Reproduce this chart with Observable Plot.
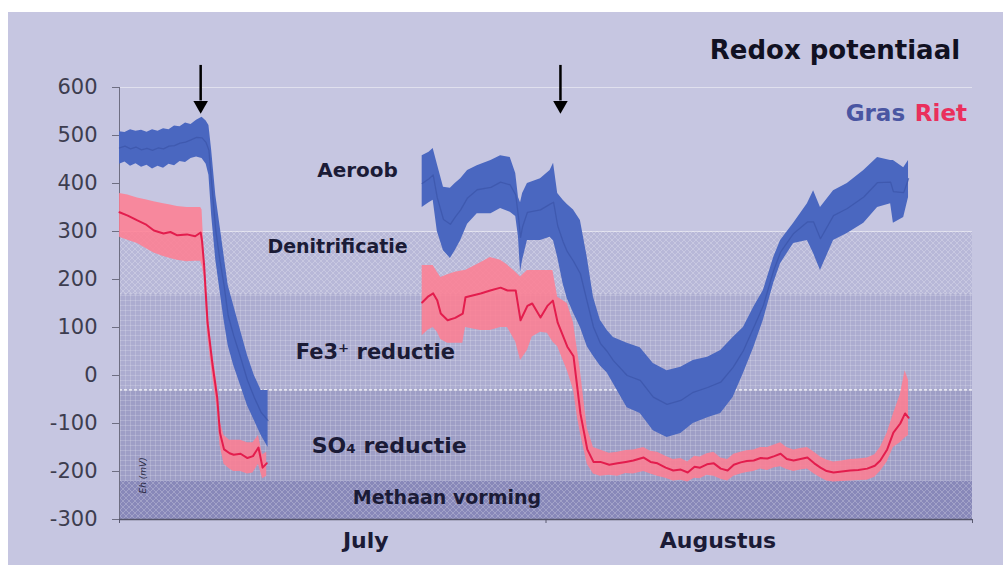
<!DOCTYPE html>
<html>
<head>
<meta charset="utf-8">
<script src="https://cdn.jsdelivr.net/npm/d3@7"></script>
<script src="https://cdn.jsdelivr.net/npm/@observablehq/plot@0.6"></script>
<style>
  html, body { margin: 0; padding: 0; background: #ffffff; }
  #bg { position: absolute; left: 8px; top: 12px; right: 0; bottom: 0; background: #c6c6e1; }
  #chart { position: absolute; left: 0; top: 0; }
  #defs { position: absolute; width: 0; height: 0; }
</style>
</head>
<body>
<svg id="defs" width="0" height="0">
  <defs>
    <pattern id="hatch" width="6" height="6" patternUnits="userSpaceOnUse">
      <path d="M0,0 L6,6 M6,0 L0,6" stroke="#ffffff" stroke-opacity="0.28" stroke-width="0.8"/>
    </pattern>
    <pattern id="grid" width="5" height="5" patternUnits="userSpaceOnUse">
      <path d="M0,0.5 H5 M0.5,0 V5" stroke="#ffffff" stroke-opacity="0.22" stroke-width="0.8"/>
    </pattern>
  </defs>
</svg>
<div id="bg"></div>
<div id="chart"></div>
<script>
// ---- Data (x = day since 1 July, y = Eh in mV) ----
const yTicks = [-300, -200, -100, 0, 100, 200, 300, 400, 500, 600];
const monthLabels = ["July", "Augustus"];
const monthPos = [17.9, 43.5];
const monthBoundaries = [0, 31, 62];
const arrowDays = [5.9, 32.05];

const bandLabels = ["Denitrificatie", "Fe3\u207A reductie", "SO\u2084 reductie", "Methaan vorming"];
const bandTop = [300, 170, -30, -220];
const bandBottom = [170, -30, -220, -300];

// [day, low, mean, high]
const grasJuly = [
  [0.0, 440, 474, 508], [0.4, 445, 478, 506], [0.8, 436, 472, 512], [1.2, 441, 476, 509],
  [1.6, 434, 470, 511], [2.0, 438, 473, 507], [2.4, 430, 469, 512], [2.8, 436, 474, 509],
  [3.2, 432, 472, 514], [3.6, 440, 478, 512], [4.0, 437, 479, 520], [4.4, 446, 484, 518],
  [4.8, 444, 486, 526], [5.2, 452, 491, 523], [5.6, 455, 496, 532], [6.0, 452, 495, 538],
  [6.3, 440, 485, 530], [6.5, 417, 469, 521], [6.7, 333, 400, 469], [7.0, 240, 302, 375],
  [7.3, 177, 240, 313], [7.6, 115, 188, 250], [7.9, 62, 125, 188], [8.3, 21, 83, 146],
  [8.8, -21, 38, 94], [9.3, -63, -10, 42], [9.8, -94, -46, 0], [10.3, -125, -77, -31],
  [10.8, -150, -94, -31]
];
const grasAug = [
  [22.0, 350, 400, 458], [22.5, 360, 410, 465], [22.8, 365, 418, 473], [23.1, 300, 370, 440],
  [23.55, 260, 325, 392], [24.05, 244, 315, 390], [24.4, 260, 330, 400], [24.8, 281, 345, 410],
  [25.3, 315, 370, 427], [26.0, 337, 387, 437], [27.0, 337, 392, 448], [27.7, 348, 403, 458],
  [28.4, 340, 397, 454], [28.8, 331, 376, 421], [29.0, 288, 330, 371], [29.15, 215, 288, 360],
  [29.3, 240, 310, 379], [29.65, 281, 340, 400], [30.6, 281, 345, 410], [31.3, 288, 357, 427],
  [31.55, 280, 361, 442], [31.85, 246, 312, 379], [32.25, 190, 278, 365], [32.55, 160, 258, 356],
  [33.0, 130, 238, 345], [33.5, 100, 212, 323], [34.0, 60, 153, 246], [34.45, 40, 101, 163],
  [34.95, 20, 67, 115], [35.45, 5, 50, 94], [35.9, -17, 31, 79], [36.9, -67, 0, 67],
  [37.85, -79, -10, 58], [38.8, -115, -45, 25], [39.8, -129, -60, 10], [40.8, -121, -52, 17],
  [41.7, -100, -35, 31], [42.75, -88, -25, 38], [43.7, -79, -14, 52], [44.6, -46, 17, 79],
  [45.35, 4, 52, 100], [46.1, 58, 100, 142], [46.8, 115, 146, 177], [47.55, 192, 219, 246],
  [48.05, 233, 257, 281], [49.0, 275, 296, 317], [50.0, 281, 320, 358], [50.45, 254, 320, 385],
  [50.95, 219, 285, 350], [51.9, 281, 333, 385], [52.9, 296, 348, 400], [54.1, 317, 372, 427],
  [55.1, 350, 402, 454], [56.05, 358, 403, 448], [56.25, 317, 383, 448], [57.0, 329, 381, 433],
  [57.35, 371, 410, 448]
];
const rietJuly = [
  [0.0, 288, 340, 379], [0.6, 282, 333, 376], [1.3, 275, 323, 370], [1.9, 265, 315, 366],
  [2.5, 255, 302, 362], [3.2, 248, 296, 358], [3.7, 244, 299, 355], [4.2, 240, 292, 352],
  [4.9, 237, 294, 350], [5.5, 238, 290, 350], [5.9, 238, 298, 350], [6.0, 230, 280, 345],
  [6.15, 205, 230, 255], [6.4, 85, 110, 135], [6.75, 0, 25, 50], [7.1, -70, -46, -20],
  [7.3, -145, -119, -95], [7.6, -185, -154, -125], [8.0, -195, -162, -135], [8.3, -200, -165, -135],
  [8.8, -200, -163, -135], [9.3, -205, -172, -140], [9.7, -203, -168, -140], [10.1, -185, -150, -125],
  [10.4, -215, -192, -165], [10.7, -210, -183, -160]
];
const rietAug = [
  [22.0, 83, 152, 229], [22.45, 95, 165, 229], [22.8, 100, 171, 229], [23.1, 90, 156, 215],
  [23.35, 75, 129, 204], [23.85, 67, 115, 210], [24.4, 67, 120, 215], [24.95, 67, 129, 218],
  [25.15, 100, 163, 219], [26.25, 94, 171, 235], [26.95, 94, 177, 246], [27.7, 100, 183, 240],
  [28.2, 100, 177, 230], [28.8, 70, 177, 215], [29.15, 31, 115, 205], [29.65, 52, 145, 219],
  [30.0, 80, 150, 219], [30.6, 90, 121, 219], [31.1, 88, 145, 219], [31.5, 70, 156, 219],
  [31.85, 60, 110, 163], [32.55, 10, 60, 150], [33.0, -30, 40, 110], [33.3, -90, -31, 50],
  [33.5, -120, -79, 10], [34.0, -185, -154, -110], [34.45, -205, -180, -150], [34.95, -210, -180, -155],
  [35.6, -208, -186, -162], [36.2, -210, -183, -160], [36.8, -204, -180, -156], [37.35, -205, -177, -155],
  [38.1, -200, -171, -150], [38.6, -205, -180, -158], [39.1, -210, -183, -160], [39.7, -214, -192, -168],
  [40.25, -220, -198, -175], [40.8, -218, -196, -173], [41.3, -222, -202, -180], [41.8, -214, -190, -168],
  [42.2, -215, -192, -170], [42.7, -208, -185, -163], [43.2, -210, -183, -160], [43.7, -216, -194, -172],
  [44.2, -220, -198, -175], [44.65, -210, -186, -164], [45.15, -205, -181, -160], [45.6, -202, -178, -157],
  [46.1, -200, -177, -155], [46.6, -195, -172, -150], [47.1, -198, -173, -150], [47.6, -192, -168, -145],
  [48.05, -190, -163, -140], [48.5, -196, -174, -150], [49.0, -200, -177, -155], [49.5, -197, -174, -152],
  [50.0, -195, -171, -150], [50.5, -205, -183, -160], [50.95, -213, -192, -170], [51.4, -220, -199, -176],
  [51.9, -222, -202, -180], [52.5, -221, -200, -178], [53.1, -220, -198, -175], [53.7, -219, -197, -174],
  [54.35, -218, -194, -172], [54.9, -212, -188, -165], [55.3, -200, -177, -150], [55.8, -180, -154, -120],
  [56.25, -150, -119, -80], [56.75, -140, -100, -40], [57.1, -130, -79, 10], [57.35, -125, -88, -10]
];

// ---- Build tables ----
const toRows = (arr, seg) => arr.map(([day, lo, mean, hi]) => ({seg, day, lo, mean, hi}));
const gras = [...toRows(grasJuly, "jul"), ...toRows(grasAug, "aug")];
const riet = [...toRows(rietJuly, "jul"), ...toRows(rietAug, "aug")];
const bands = bandLabels.map((label, i) => ({label, top: bandTop[i], bottom: bandBottom[i]}));

// ---- Styles ----
const bandFills = ["#b8b8d8", "#acacd0", "#9e9ec6", "#8888b9"];
const bandPatterns = ["url(#hatch)", "url(#grid)", "url(#grid)", "url(#hatch)"];
const labelColor = "#1b1b36";
const fontFamily = "DejaVu Sans";

const chart = Plot.plot({
  width: 1003,
  height: 565,
  marginLeft: 119,
  marginRight: 31,
  marginTop: 87,
  marginBottom: 46,
  x: {domain: [0, 62], axis: null},
  y: {domain: [-300, 600], axis: null},
  style: {fontFamily, background: "transparent", overflow: "visible"},
  marks: [
    // zone bands
    ...bands.map((b, i) => Plot.rect([b], {x1: 0, x2: 62, y1: "bottom", y2: "top", fill: bandFills[i]})),
    ...bands.map((b, i) => Plot.rect([b], {x1: 0, x2: 62, y1: "bottom", y2: "top", fill: bandPatterns[i]})),
    Plot.ruleY([600], {stroke: "#ffffff", strokeOpacity: 0.45}),
    Plot.ruleY([300], {stroke: "#ffffff", strokeOpacity: 0.55}),
    Plot.ruleY([170], {stroke: "#ffffff", strokeOpacity: 0.35, strokeDasharray: "3,2"}),
    Plot.ruleY([-30], {stroke: "#ffffff", strokeOpacity: 0.9, strokeDasharray: "3,2", strokeWidth: 1.2}),

    // axes
    Plot.axisY(yTicks, {tickSize: 7, tickPadding: 15, tickFormat: d => String(d), fontSize: 21,
      fill: "#3d3d4f", stroke: "#6e6e82", label: null}),
    Plot.ruleX([0], {y1: -300, y2: 600, stroke: "#6e6e82"}),
    Plot.axisX(monthBoundaries, {tickSize: 4, tickFormat: () => "", stroke: "#5a5a70", label: null}),
    Plot.ruleY([-300], {stroke: "#55556a", strokeWidth: 1.5}),
    Plot.text(monthLabels, {x: (d, i) => monthPos[i], y: -300, dy: 21, text: d => d, fontSize: 22,
      fontWeight: "bold", fill: labelColor}),

    // zone labels
    Plot.text(["Aeroob"], {x: 17.3, y: 427, text: d => d, fontSize: 20, fontWeight: "bold", fill: labelColor}),
    Plot.text([bandLabels[0]], {x: 15.85, y: 267, text: d => d, fontSize: 19, fontWeight: "bold", fill: labelColor}),
    Plot.text([bandLabels[1]], {x: 18.6, y: 48, text: d => d, fontSize: 21, fontWeight: "bold", fill: labelColor}),
    Plot.text([bandLabels[2]], {x: 19.6, y: -146, text: d => d, fontSize: 22, fontWeight: "bold", fill: labelColor}),
    Plot.text([bandLabels[3]], {x: 23.8, y: -254, text: d => d, fontSize: 19, fontWeight: "bold", fill: labelColor}),
    Plot.text(["Eh (mV)"], {x: 1.75, y: -208, text: d => d, rotate: -90, fontSize: 9, fontStyle: "italic", fill: "#2a2a44"}),

    // Gras (blue)
    Plot.areaY(gras, {x: "day", y1: "lo", y2: "hi", z: "seg", fill: "#4a67c0"}),
    Plot.lineY(gras, {x: "day", y: "mean", z: "seg", stroke: "#3a54a8", strokeWidth: 1.3, strokeOpacity: 0.7}),
    // Riet (red)
    Plot.areaY(riet, {x: "day", y1: "lo", y2: "hi", z: "seg", fill: "#ff7d90", fillOpacity: 0.85}),
    Plot.lineY(riet, {x: "day", y: "mean", z: "seg", stroke: "#e31d4d", strokeWidth: 2}),

    // arrows
    Plot.ruleX(arrowDays, {y1: 646, y2: 572, stroke: "#000000", strokeWidth: 2.5}),
    Plot.dot(arrowDays, {x: d => d, y: 563, symbol: "triangle", r: 5.4, rotate: 180, fill: "#000000", stroke: "none"}),

    // title & legend
    Plot.text(["Redox potentiaal"], {x: 61.1, y: 677, text: d => d, textAnchor: "end", fontSize: 26,
      fontWeight: "bold", fill: "#111122"}),
    Plot.text(["Gras"], {x: 57.1, y: 546, text: d => d, textAnchor: "end", fontSize: 23, fontWeight: "bold", fill: "#4a56a2"}),
    Plot.text(["Riet"], {x: 61.6, y: 546, text: d => d, textAnchor: "end", fontSize: 23, fontWeight: "bold", fill: "#ea2f5c"})
  ]
});
document.getElementById("chart").appendChild(chart);
</script>
</body>
</html>
